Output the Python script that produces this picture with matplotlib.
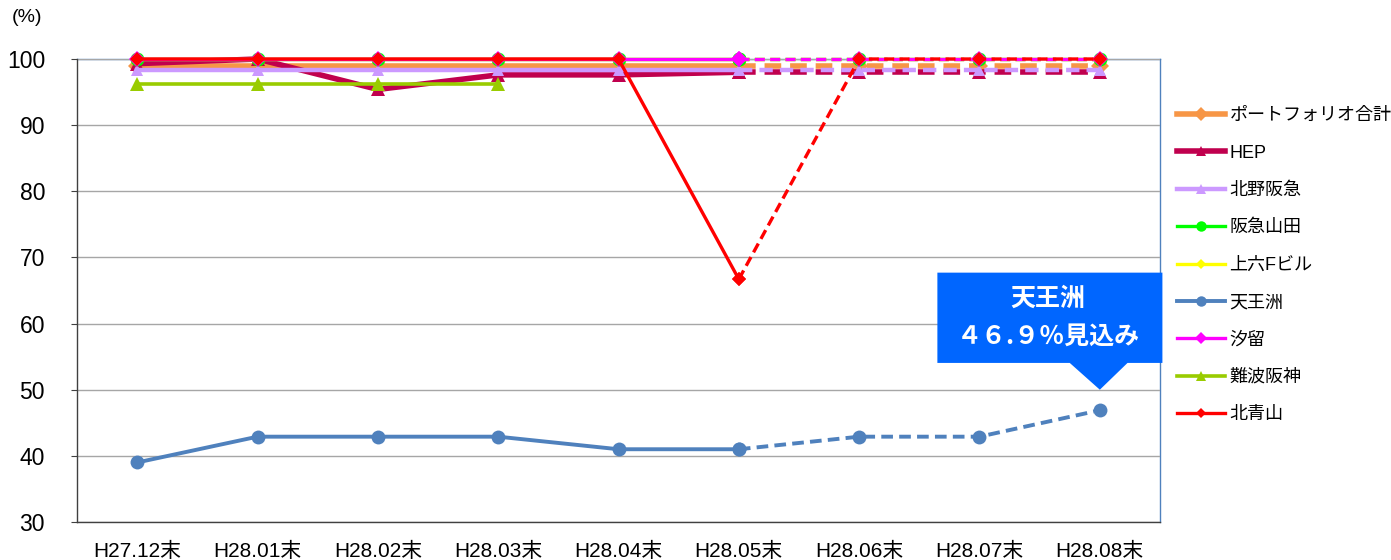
import numpy as np
import matplotlib
matplotlib.use('Agg')
import matplotlib.pyplot as plt
from matplotlib.patches import Polygon

plt.rcParams['font.family'] = ['Liberation Sans', 'Noto Sans CJK JP', 'DejaVu Sans']

# data
months = ['H27.12末', 'H28.01末', 'H28.02末', 'H28.03末', 'H28.04末',
          'H28.05末', 'H28.06末', 'H28.07末', 'H28.08末']
portfolio = [99.0, 99.0, 99.0, 99.0, 99.0, 99.0, 99.0, 99.0, 99.0]
hep = [99.3, 100.0, 95.4, 97.6, 97.6, 98.0, 98.0, 98.0, 98.0]
kitano = [98.3, 98.3, 98.3, 98.3, 98.3, 98.3, 98.3, 98.3, 98.3]
yamada = [100.0, 100.0, 100.0, 100.0, 100.0, 100.0, 100.0, 100.0, 100.0]
uehon = [100.0, 100.0, 100.0, 100.0, 100.0, 100.0, 100.0, 100.0, 100.0]
tennozu = [39.0, 42.9, 42.9, 42.9, 41.0, 41.0, 42.9, 42.9, 46.9]
shiodome = [100.0, 100.0, 100.0, 100.0, 100.0, 100.0, 100.0, 100.0, 100.0]
namba = [96.2, 96.2, 96.2, 96.2, np.nan, np.nan, np.nan, np.nan, np.nan]
aoyama = [100.0, 100.0, 100.0, 100.0, 100.0, 66.7, 100.0, 100.0, 100.0]

series = [
    ('ポートフォリオ合計', portfolio, '#F79646', 'D', 9, 4.0),
    ('HEP', hep, '#C0004E', '^', 10, 4.0),
    ('北野阪急', kitano, '#CC99FF', '^', 9, 3.2),
    ('阪急山田', yamada, '#00FF00', 'o', 10, 2.4),
    ('上六Fビル', uehon, '#FFFF00', 'D', 7, 2.4),
    ('天王洲', tennozu, '#4F81BD', 'o', 10, 2.8),
    ('汐留', shiodome, '#FF00FF', 'D', 8, 2.4),
    ('難波阪神', namba, '#99CC00', '^', 10, 2.6),
    ('北青山', aoyama, '#FF0000', 'D', 7, 2.4),
]
actual_end = 5  # last actual month (H28.05), forecast afterwards

fig = plt.figure(figsize=(13.91, 5.6), dpi=100)
ax = fig.add_axes([77 / 1391, 38 / 560, (1160 - 77) / 1391, (522 - 59) / 560])

x = np.arange(len(months))
handles = []
for name, vals, color, mk, ms, lw in series:
    vals = np.array(vals, dtype=float)
    h, = ax.plot(x[:actual_end + 1], vals[:actual_end + 1], '-', color=color, lw=lw,
                 marker=mk, markersize=ms, markeredgewidth=0, label=name, clip_on=False)
    ax.plot(x[actual_end:], vals[actual_end:], '--', color=color, lw=lw,
            marker=mk, markersize=ms, markeredgewidth=0, dashes=(3, 1.6), clip_on=False)
    handles.append(h)

ax.set_xlim(-0.5, len(months) - 0.5)
ax.set_ylim(30, 100)
ax.set_yticks(range(30, 101, 10))
ax.set_xticks(x)
ax.set_xticklabels(months, fontsize=15)
ax.tick_params(axis='x', length=0, pad=14)
ax.tick_params(axis='y', labelsize=16.5, length=4, direction='out', color='#404040', pad=19)
ax.yaxis.grid(True, color='#A6A6A6', lw=1)
ax.set_axisbelow(True)
for side in ['left', 'bottom']:
    ax.spines[side].set_color('#404040')
    ax.spines[side].set_linewidth(1)
for side in ['top', 'right']:
    ax.spines[side].set_color('#4F81BD')
    ax.spines[side].set_linewidth(1)
    ax.spines[side].set_zorder(0.5)

fig.text(12 / 1391, 1 - 18 / 560, '(%)', fontsize=14, va='center', ha='left')

leg = fig.legend(handles=handles, loc='upper left', bbox_to_anchor=(1170 / 1391, 1 - 100 / 560),
                 frameon=False, fontsize=13, handlelength=2.65, handletextpad=0.25,
                 labelspacing=1.13, borderaxespad=0, markerscale=0.75)

# callout for 天王洲
tx, ty = x[-1], tennozu[-1]
box = Polygon([(tx - 1.35, ty + 20.8), (tx + 0.52, ty + 20.8), (tx + 0.52, ty + 7.15),
               (tx + 0.23, ty + 7.15), (tx, ty + 3.1), (tx - 0.25, ty + 7.15),
               (tx - 1.35, ty + 7.15)],
              closed=True, facecolor='#0066FF', edgecolor='none', clip_on=False, zorder=10)
ax.add_patch(box)
ax.text(tx - 0.43, ty + 16.9, '天王洲', color='white', fontsize=18, fontweight='bold',
        ha='center', va='center', zorder=11, family=['Noto Sans CJK JP'])
ax.text(tx - 0.43, ty + 11.1, '４６.９％見込み', color='white', fontsize=18, fontweight='bold',
        ha='center', va='center', zorder=11, family=['Noto Sans CJK JP'])

fig.savefig('out.png', dpi=100)
